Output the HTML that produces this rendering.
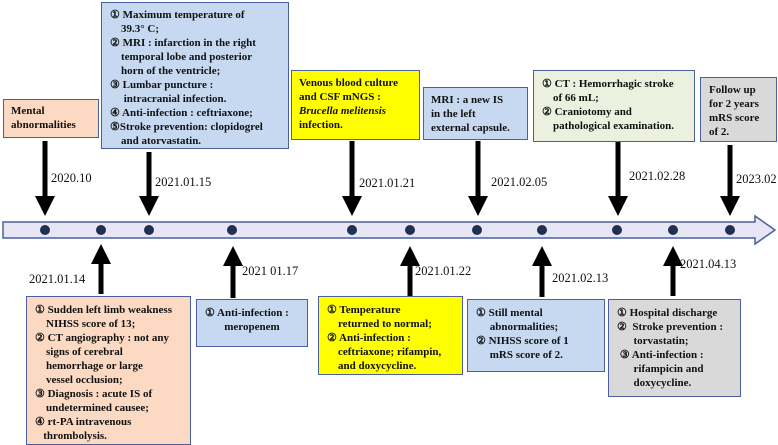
<!DOCTYPE html>
<html><head><meta charset="utf-8"><style>
body{margin:0;width:778px;height:445px;background:#fff;position:relative;overflow:hidden;font-family:"Liberation Serif",serif;}
.b{position:absolute;box-sizing:border-box;border:1.5px solid #4a60a0;font-weight:bold;font-size:11px;line-height:14px;color:#111;padding:3px 6px;}
.d{position:absolute;font-size:12.5px;color:#111;}
svg{position:absolute;left:0;top:0}
</style></head><body>
<svg width="778" height="445">
<defs><marker id="a" markerWidth="4" markerHeight="4" refX="2" refY="2" orient="auto" markerUnits="strokeWidth"><path d="M0,0 L4,2 L0,4 z" fill="#000"/></marker></defs>
<path d="M3,222 H755 V216 L775,230 L755,244 V238 H3 Z" fill="#e6e6f4" stroke="#4a60a0" stroke-width="1.5"/>
<g fill="#1f3050">
<circle cx="45" cy="230" r="5"/><circle cx="101" cy="230" r="5"/><circle cx="149" cy="230" r="5"/><circle cx="232" cy="230" r="5"/><circle cx="352" cy="230" r="5"/><circle cx="410" cy="230" r="5"/><circle cx="477" cy="230" r="5"/><circle cx="542" cy="230" r="5"/><circle cx="617" cy="230" r="5"/><circle cx="673" cy="230" r="5"/><circle cx="730" cy="230" r="5"/>
</g>
<g stroke="#000" stroke-width="5" marker-end="url(#a)">
<line x1="45" y1="141" x2="45" y2="206"/>
<line x1="149" y1="152" x2="149" y2="206"/>
<line x1="352" y1="141" x2="352" y2="206"/>
<line x1="478" y1="141" x2="478" y2="206"/>
<line x1="618" y1="141" x2="618" y2="206"/>
<line x1="730" y1="145" x2="730" y2="206"/>
<line x1="101" y1="294" x2="101" y2="254"/>
<line x1="233" y1="298" x2="233" y2="256"/>
<line x1="410" y1="297" x2="410" y2="256"/>
<line x1="542" y1="297" x2="542" y2="256"/>
<line x1="673" y1="296" x2="673" y2="256"/>
</g>
</svg>
<div class="d" style="left:51px;top:171px">2020.10</div>
<div class="d" style="left:155px;top:175px">2021.01.15</div>
<div class="d" style="left:359px;top:176px">2021.01.21</div>
<div class="d" style="left:491px;top:175px">2021.02.05</div>
<div class="d" style="left:629px;top:169px">2021.02.28</div>
<div class="d" style="left:736px;top:172px">2023.02</div>
<div class="d" style="left:29px;top:272px">2021.01.14</div>
<div class="d" style="left:242px;top:264px">2021 01.17</div>
<div class="d" style="left:415px;top:264px">2021.01.22</div>
<div class="d" style="left:552px;top:271px">2021.02.13</div>
<div class="d" style="left:680px;top:257px">2021.04.13</div>

<div class="b" style="left:3px;top:99px;width:96px;height:39px;background:#fbd9c2;padding:4px 7px">Mental<br>abnormalities</div>
<div class="b" style="left:101px;top:2px;width:188px;height:147px;background:#c6d9f1;padding:5px 8px">① Maximum temperature of<br>&nbsp;&nbsp;&nbsp;&nbsp;39.3° C;<br>② MRI : infarction in the right<br>&nbsp;&nbsp;&nbsp;&nbsp;temporal lobe and posterior<br>&nbsp;&nbsp;&nbsp;&nbsp;horn of the ventricle;<br>③ Lumbar puncture :<br>&nbsp;&nbsp;&nbsp;&nbsp;&nbsp;intracranial infection.<br>④ Anti-infection : ceftriaxone;<br>⑤Stroke prevention: clopidogrel<br>&nbsp;&nbsp;&nbsp;&nbsp;and atorvastatin.</div>
<div class="b" style="left:291px;top:70px;width:129px;height:70px;background:#ffff00;padding:5px 7px">Venous blood culture<br>and CSF mNGS :<br><i>Brucella melitensis</i><br>infection.</div>
<div class="b" style="left:423px;top:87px;width:105px;height:53px;background:#c6d9f1;padding:5px 7px">MRI : a new IS<br>in the left<br>external capsule.</div>
<div class="b" style="left:533px;top:70px;width:162px;height:72px;background:#ebf1de;padding:6px 8px">① CT : Hemorrhagic stroke<br>&nbsp;&nbsp;&nbsp;&nbsp;of 66 mL;<br>② Craniotomy and<br>&nbsp;&nbsp;&nbsp;&nbsp;pathological examination.</div>
<div class="b" style="left:700px;top:77px;width:77px;height:65px;background:#d9d9d9;padding:5px 8px">Follow up<br>for 2 years<br>mRS score<br>of 2.</div>

<div class="b" style="left:26px;top:296px;width:165px;height:149px;background:#fbd9c2;padding:6px 8px">① Sudden left limb weakness<br>&nbsp;&nbsp;&nbsp;&nbsp;NIHSS score of 13;<br>② CT angiography : not any<br>&nbsp;&nbsp;&nbsp;&nbsp;signs of cerebral<br>&nbsp;&nbsp;&nbsp;&nbsp;hemorrhage or large<br>&nbsp;&nbsp;&nbsp;&nbsp;vessel occlusion;<br>③ Diagnosis : acute IS of<br>&nbsp;&nbsp;&nbsp;&nbsp;undetermined causee;<br>④ rt-PA intravenous<br>&nbsp;&nbsp;&nbsp;thrombolysis.</div>
<div class="b" style="left:196px;top:299px;width:112px;height:48px;background:#c6d9f1;padding:6px 8px">① Anti-infection :<br>&nbsp;&nbsp;&nbsp;&nbsp;&nbsp;&nbsp;&nbsp;meropenem</div>
<div class="b" style="left:318px;top:296px;width:145px;height:79px;background:#ffff00;padding:6px 8px">① Temperature<br>&nbsp;&nbsp;&nbsp;&nbsp;returned to normal;<br>② Anti-infection :<br>&nbsp;&nbsp;&nbsp;&nbsp;ceftriaxone; rifampin,<br>&nbsp;&nbsp;&nbsp;&nbsp;and doxycycline.</div>
<div class="b" style="left:467px;top:299px;width:138px;height:73px;background:#c6d9f1;padding:6px 8px">① Still mental<br>&nbsp;&nbsp;&nbsp;&nbsp;&nbsp;abnormalities;<br>② NIHSS score of 1<br>&nbsp;&nbsp;&nbsp;&nbsp;&nbsp;mRS score of 2.</div>
<div class="b" style="left:608px;top:299px;width:133px;height:98px;background:#d9d9d9;padding:6px 8px">① Hospital discharge<br>②&nbsp; Stroke prevention :<br>&nbsp;&nbsp;&nbsp;&nbsp;&nbsp;&nbsp;torvastatin;<br>&nbsp;③ Anti-infection :<br>&nbsp;&nbsp;&nbsp;&nbsp;&nbsp;&nbsp;rifampicin and<br>&nbsp;&nbsp;&nbsp;&nbsp;&nbsp;&nbsp;doxycycline.</div>
</body></html>
